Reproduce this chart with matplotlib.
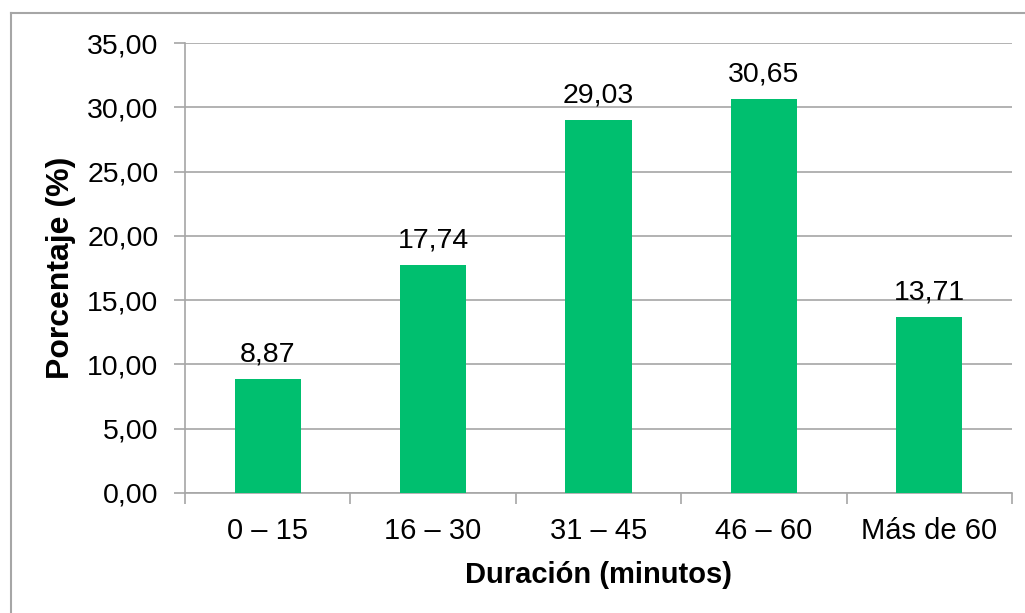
import matplotlib.pyplot as plt
from matplotlib.lines import Line2D

plt.rcParams['font.family'] = ['Liberation Sans', 'DejaVu Sans']

categorias = ['0 – 15', '16 – 30', '31 – 45', '46 – 60', 'Más de 60']
porcentajes = [8.87, 17.74, 29.03, 30.65, 13.71]
y_ticks = [0, 5, 10, 15, 20, 25, 30, 35]

W, H = 1025, 613
fig = plt.figure(figsize=(W / 100, H / 100), dpi=100)
ax = fig.add_axes([185 / W, 1 - 493 / H, (1012 - 185) / W, (493 - 43) / H])

grey = '#A6A6A6'
x = list(range(len(categorias)))
ax.bar(x, porcentajes, width=0.40, color='#00BF6F', zorder=3)
for xi, v in zip(x, porcentajes):
    ax.annotate(f'{v:.2f}'.replace('.', ','), (xi, v), xytext=(0, 8),
                textcoords='offset points', ha='center', va='bottom', fontsize=20.5)

ax.set_xlim(-0.5, len(categorias) - 0.5)
ax.set_ylim(0, 35)
ax.set_yticks(y_ticks)
ax.set_yticklabels([f'{t:.2f}'.replace('.', ',') for t in y_ticks], fontsize=20.5)
ax.set_xticks(x)
ax.set_xticklabels(categorias, fontsize=21)
ax.tick_params(axis='x', length=0, pad=17)
ax.tick_params(axis='y', length=8, color=grey, width=1.2, pad=11)
# category separator ticks
ax.set_xticks([i - 0.5 for i in range(len(categorias) + 1)], minor=True)
ax.tick_params(axis='x', which='minor', length=8, color=grey, width=1.2)
ax.grid(axis='y', color=grey, linewidth=1.2, zorder=0)

for s in ['top', 'right']:
    ax.spines[s].set_visible(False)
for s in ['left', 'bottom']:
    ax.spines[s].set_color(grey)
    ax.spines[s].set_linewidth(1.2)

ax.set_ylabel('Porcentaje (%)', fontsize=23, fontweight='bold', labelpad=8)
ax.set_xlabel('Duración (minutos)', fontsize=21, fontweight='bold', labelpad=12)

# outer chart frame
fig.add_artist(Line2D([11 / W, 11 / W], [-0.1, 1 - 13 / H], color=grey, linewidth=1.5))
fig.add_artist(Line2D([11 / W, 1.1], [1 - 13 / H, 1 - 13 / H], color=grey, linewidth=1.5))

fig.savefig('out.png', dpi=100)
